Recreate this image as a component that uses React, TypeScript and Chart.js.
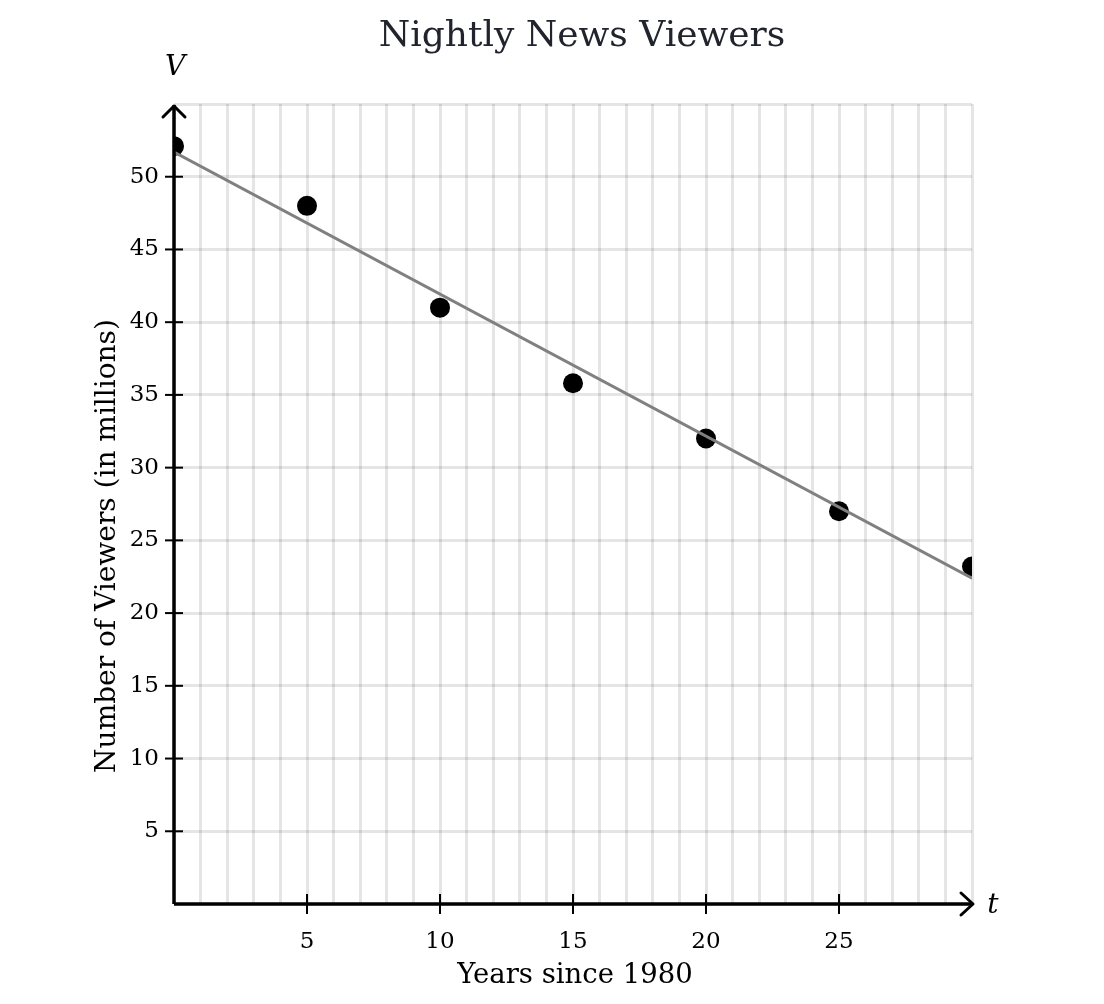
import React, { useEffect, useRef } from "react";
import { Chart, registerables } from "chart.js";

Chart.register(...registerables);

// ---- Data ----
const years = [0, 5, 10, 15, 20, 25, 30];
const viewers = [52.1, 48, 41, 35.8, 32, 27, 23.2];
const trendYears = [0, 30];
const trendViewers = [51.7, 22.4];
const xTickLabels = [5, 10, 15, 20, 25];
const yTickLabels = [5, 10, 15, 20, 25, 30, 35, 40, 45, 50];
const chartTitle = "Nightly News Viewers";
const xAxisTitle = "Years since 1980";
const yAxisTitle = "Number of Viewers (in millions)";
const xVar = "t";
const yVar = "V";

const SERIF = "'DejaVu Serif', 'Liberation Serif', serif";

const overlayPlugin = {
  id: "overlay",
  afterDatasetsDraw(chart: any) {
    const { ctx, chartArea } = chart;
    const xs = chart.scales.x;
    const ys = chart.scales.y;
    const x0 = xs.getPixelForValue(0);
    const y0 = ys.getPixelForValue(0);
    const left = chartArea.left;
    const right = chartArea.right;
    const top = chartArea.top;
    ctx.save();
    ctx.strokeStyle = "#000";
    ctx.lineCap = "butt";
    // tick marks
    ctx.lineWidth = 2;
    for (const v of yTickLabels) {
      const py = ys.getPixelForValue(v);
      ctx.beginPath();
      ctx.moveTo(x0 - 9, py);
      ctx.lineTo(x0 + 9, py);
      ctx.stroke();
    }
    for (const v of xTickLabels) {
      const px = xs.getPixelForValue(v);
      ctx.beginPath();
      ctx.moveTo(px, y0 - 10);
      ctx.lineTo(px, y0 + 10);
      ctx.stroke();
    }
    // axes
    ctx.lineWidth = 3.5;
    ctx.beginPath();
    ctx.moveTo(left, y0);
    ctx.lineTo(right + 1, y0);
    ctx.stroke();
    ctx.beginPath();
    ctx.moveTo(x0, y0);
    ctx.lineTo(x0, top + 1);
    ctx.stroke();
    // arrows
    ctx.lineWidth = 3;
    ctx.lineJoin = "round";
    ctx.lineCap = "round";
    ctx.beginPath();
    ctx.moveTo(x0 - 11, top + 13);
    ctx.lineTo(x0, top + 2);
    ctx.lineTo(x0 + 11, top + 13);
    ctx.stroke();
    ctx.beginPath();
    ctx.moveTo(right - 11, y0 - 11);
    ctx.lineTo(right + 1, y0);
    ctx.lineTo(right - 11, y0 + 11);
    ctx.stroke();

    // texts
    ctx.fillStyle = "#000";
    ctx.textAlign = "center";
    ctx.textBaseline = "middle";
    ctx.font = `italic 28px ${SERIF}`;
    ctx.fillText(yVar, x0 + 1, 68);
    ctx.fillText(xVar, right + 21, y0 + 2);

    ctx.fillStyle = "#21242c";
    ctx.font = `36px ${SERIF}`;
    ctx.fillText(chartTitle, 582, 37);

    ctx.fillStyle = "#000";
    ctx.font = `27.5px ${SERIF}`;
    ctx.fillText(xAxisTitle, (left + right) / 2 + 2, 976);
    ctx.save();
    ctx.translate(108, 546);
    ctx.rotate(-Math.PI / 2);
    ctx.font = `28px ${SERIF}`;
    ctx.fillText(yAxisTitle, 0, 0);
    ctx.restore();
    ctx.restore();
  },
};

export default function App() {
  const ref = useRef<HTMLCanvasElement | null>(null);
  useEffect(() => {
    const canvas = ref.current;
    if (!canvas) return;
    const chart = new Chart(canvas, {
      type: "scatter",
      data: {
        datasets: [
          {
            type: "line",
            data: trendYears.map((x, i) => ({ x, y: trendViewers[i] })),
            borderColor: "#808080",
            borderWidth: 3,
            pointRadius: 0,
            fill: false,
            clip: 0,
          } as any,
          {
            type: "scatter",
            data: years.map((x, i) => ({ x, y: viewers[i] })),
            backgroundColor: "#000",
            borderColor: "#000",
            pointRadius: 10,
            pointHoverRadius: 10,
            borderWidth: 0,
            clip: 0,
          } as any,
        ],
      },
      options: {
        responsive: false,
        animation: false,
        events: [],
        layout: { padding: { left: 0, right: 132, top: 104, bottom: 0 } },
        plugins: {
          legend: { display: false },
          title: { display: false },
          tooltip: { enabled: false },
        },
        scales: {
          x: {
            type: "linear",
            min: 0,
            max: 30,
            afterFit: (s: any) => {
              s.height = 100;
            },
            border: { display: false },
            grid: {
              color: "rgba(0,0,0,0.1)",
              lineWidth: 3,
              drawTicks: false,
            },
            ticks: {
              stepSize: 1,
              autoSkip: false,
              maxRotation: 0,
              padding: 24,
              color: "#000",
              font: { family: SERIF, size: 23 },
              callback: (v: any) => (xTickLabels.includes(Number(v)) ? String(v) : ""),
            },
          },
          y: {
            type: "linear",
            min: 0,
            max: 55,
            afterFit: (s: any) => {
              s.width = 174;
            },
            border: { display: false },
            grid: {
              color: "rgba(0,0,0,0.1)",
              lineWidth: 3,
              drawTicks: false,
            },
            ticks: {
              stepSize: 5,
              autoSkip: false,
              padding: 15,
              color: "#000",
              font: { family: SERIF, size: 23 },
              callback: (v: any) => (yTickLabels.includes(Number(v)) ? String(v) : ""),
            },
          },
        },
      } as any,
      plugins: [overlayPlugin],
    });
    return () => chart.destroy();
  }, []);
  return (
    <div style={{ position: "absolute", left: 0, top: 0, width: 1104, height: 1004, background: "#fff" }}>
      <canvas ref={ref} width={1104} height={1004} />
    </div>
  );
}
